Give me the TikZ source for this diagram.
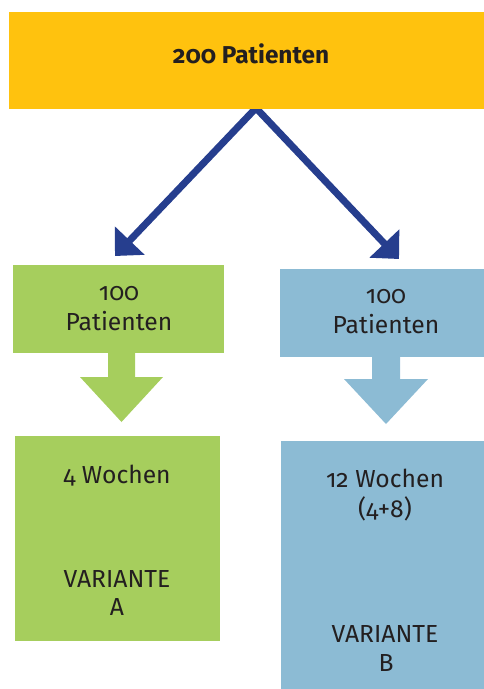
\documentclass[tikz,border=0pt]{standalone}
\usepackage{fontspec}
\setmainfont{Fira Sans}[Numbers=OldStyle]
\usepackage{tikz}
\usetikzlibrary{arrows.meta,backgrounds,calc}

\definecolor{patyellow}{RGB}{255,194,14}
\definecolor{armgreen}{RGB}{166,206,93}
\definecolor{armblue}{RGB}{140,187,212}
\definecolor{splitblue}{RGB}{38,62,142}
\definecolor{textdark}{RGB}{35,31,32}

\begin{document}
\begin{tikzpicture}[x=0.75pt,y=-0.75pt,
  box/.style={inner sep=0pt, outer sep=0pt},
  txt/.style={inner sep=0pt, anchor=base, text=textdark, font=\fontsize{18.5}{22}\selectfont},
  txtbold/.style={txt, font=\fontsize{18.3}{22}\selectfont\bfseries},
  splitarrow/.style={draw=splitblue, line width=5.25pt, -{Triangle[length=16pt,width=30pt]}}]
\useasboundingbox (0,0) rectangle (484,689);

% boxes
\node[box, fill=patyellow, minimum width=356.25pt, minimum height=72.5pt] (total) at (246.5,60.3) {};
\node[box, fill=armgreen, minimum width=158.25pt, minimum height=66pt] (green1) at (118.5,309) {};
\node[box, fill=armgreen, minimum width=153.75pt, minimum height=153.75pt] (green2) at (117.5,538.5) {};
\node[box, fill=armblue, minimum width=153pt, minimum height=66pt] (blue1) at (382,313) {};
\node[box, fill=armblue, minimum width=152.25pt, minimum height=186pt] (blue2) at (382.5,565) {};

% split into the two groups
\coordinate (fork) at (256,108);
\begin{scope}[on background layer]
\draw[splitarrow] (fork) -- ($(green1.north)+(-3.5,-9)$);
\draw[splitarrow] (fork) -- ($(blue1.north)+(17,-10)$);
\end{scope}

% block arrows
\coordinate (gdown) at ($(green1.south)+(3,0)$);
\fill[armgreen] (gdown) ++(-13.5,0) -- ++(0,24) -- ++(-28,0) -- ++(41.5,45) -- ++(41.5,-45) -- ++(-28,0) -- ++(0,-24) -- cycle;
\coordinate (bdown) at ($(blue1.south)+(3.5,0)$);
\fill[armblue] (bdown) ++(-13.5,0) -- ++(0,22) -- ++(-28,0) -- ++(42,45) -- ++(42,-45) -- ++(-28,0) -- ++(0,-22) -- cycle;

% texts
\node[txtbold] (totaltxt) at (251,63) {200 Patienten};
\node[txt] (g1a) at (119,300) {100};
\node[txt] (g1b) at (119,330) {Patienten};
\node[txt] (g2a) at (117,483) {4 Wochen};
\node[txt] (g2b) at (117,587) {VARIANTE};
\node[txt] (g2c) at (117,615) {A};
\node[txt] (b1a) at (386,303) {100};
\node[txt] (b1b) at (386,333) {Patienten};
\node[txt] (b2a) at (385,487) {12 Wochen};
\node[txt] (b2b) at (385,517) {(4+8)};
\node[txt] (b2c) at (385,642) {VARIANTE};
\node[txt] (b2d) at (386,671) {B};
\end{tikzpicture}
\end{document}
